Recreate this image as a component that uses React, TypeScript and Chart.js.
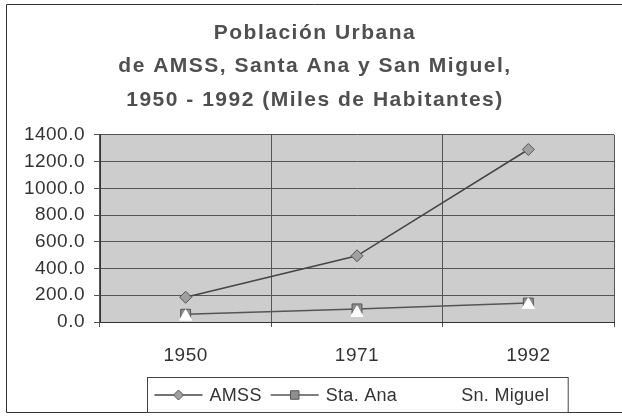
import React, { useEffect, useRef } from "react";
import { Chart, registerables } from "chart.js";
import { drawPoint } from "chart.js/helpers";

Chart.register(...registerables);

const years = ["1950", "1971", "1992"];
const amss = [185, 495, 1290];
const staAna = [58, 98, 142];
const snMiguel = [40, 68, 128];
const seriesNames = ["AMSS", "Sta. Ana", "Sn. Miguel"];
const titleLines = [
  "Población Urbana",
  "de AMSS, Santa Ana y San Miguel,",
  "1950 - 1992 (Miles de Habitantes)",
];
const yMin = 0;
const yMax = 1400;
const yStep = 200;

const FONT = "Arial, 'Liberation Sans', Helvetica, sans-serif";
const TITLE_SIZE = 21;
const TITLE_LH = 1.6;
const TITLE_PAD_TOP = 16;

const plotBg = {
  id: "plotBg",
  beforeDraw(chart: any) {
    const { ctx, chartArea: a } = chart;
    ctx.save();
    ctx.fillStyle = "#cdcdcd";
    ctx.fillRect(a.left, a.top, a.right - a.left, a.bottom - a.top);
    ctx.restore();
    (ctx as any).letterSpacing = "0.5px";
  },
  beforeDatasetsDraw(chart: any) {
    (chart.ctx as any).letterSpacing = "0px";
  },
};

const spacedTitle = {
  id: "spacedTitle",
  afterDraw(chart: any) {
    const { ctx, width } = chart;
    const tb = chart.titleBlock;
    const top = tb ? tb.top : 0;
    ctx.save();
    (ctx as any).letterSpacing = "1.5px";
    ctx.font = `bold ${TITLE_SIZE}px ${FONT}`;
    ctx.fillStyle = "#4f4f4f";
    ctx.textAlign = "center";
    ctx.textBaseline = "middle";
    const lh = TITLE_SIZE * TITLE_LH;
    titleLines.forEach((line, i) => {
      ctx.fillText(line, width / 2 + 4, top + TITLE_PAD_TOP + lh * (i + 0.5));
    });
    ctx.restore();
  },
};

const frame = {
  id: "frame",
  afterDraw(chart: any) {
    const { ctx, width, height } = chart;
    ctx.save();
    ctx.strokeStyle = "#333";
    ctx.lineWidth = 1;
    ctx.beginPath();
    ctx.moveTo(width, 4.5);
    ctx.lineTo(6.5, 4.5);
    ctx.lineTo(6.5, height - 3.5);
    ctx.lineTo(width, height - 3.5);
    ctx.stroke();
    ctx.restore();
  },
};

const customLegend = {
  id: "customLegend",
  afterDraw(chart: any) {
    const { ctx, chartArea: a } = chart;
    const ds = chart.data.datasets;
    const fontSize = 18;
    const sampleW = 48;
    const gap = 7;
    const itemPad = 9;
    ctx.save();
    (ctx as any).letterSpacing = "0.3px";
    ctx.font = `${fontSize}px ${FONT}`;
    const widths = ds.map((d: any) => ctx.measureText(d.label).width);
    const total =
      widths.reduce((s: number, w: number) => s + w, 0) +
      ds.length * (sampleW + gap) +
      (ds.length - 1) * itemPad;
    const padL = 7;
    const padR = 19;
    const boxW = total + padL + padR;
    const cx = (a.left + a.right) / 2;
    const boxL = Math.round(cx - boxW / 2) + 0.5;
    const boxT = 377.5;
    const boxH = 35;
    const yc = boxT + boxH / 2;
    ctx.strokeStyle = "#444";
    ctx.lineWidth = 1;
    ctx.strokeRect(boxL, boxT, boxW, boxH);
    let x = boxL + padL;
    ds.forEach((d: any, i: number) => {
      ctx.strokeStyle = d.legendLine;
      ctx.lineWidth = 1.5;
      ctx.beginPath();
      ctx.moveTo(x, yc);
      ctx.lineTo(x + sampleW, yc);
      ctx.stroke();
      ctx.fillStyle = d.pointBackgroundColor;
      ctx.strokeStyle = d.pointBorderColor;
      ctx.lineWidth = 1;
      drawPoint(
        ctx,
        { pointStyle: d.pointStyle, radius: d.pointRadius - 1, rotation: 0, borderWidth: 1 } as any,
        x + sampleW / 2,
        yc
      );
      ctx.fillStyle = "#333";
      ctx.textBaseline = "middle";
      ctx.textAlign = "left";
      ctx.fillText(d.label, x + sampleW + gap, yc + 1);
      x += sampleW + gap + widths[i] + itemPad;
    });
    ctx.restore();
  },
};

export default function App() {
  const ref = useRef<HTMLCanvasElement>(null);
  useEffect(() => {
    document.body.style.margin = "0";
    const chart = new Chart(ref.current as HTMLCanvasElement, {
      type: "line",
      data: {
        labels: years,
        datasets: [
          {
            label: seriesNames[0],
            data: amss,
            borderColor: "#454545",
            borderWidth: 1.5,
            pointStyle: "rectRot",
            pointRadius: 6,
            pointBackgroundColor: "#a0a0a0",
            pointBorderColor: "#555",
            pointBorderWidth: 1,
            legendLine: "#454545",
            order: 2,
          } as any,
          {
            label: seriesNames[1],
            data: staAna,
            borderColor: "#555555",
            borderWidth: 1.5,
            pointStyle: "rect",
            pointRadius: 7,
            pointBackgroundColor: "#8f8f8f",
            pointBorderColor: "#555",
            pointBorderWidth: 1,
            legendLine: "#555555",
            order: 1,
          } as any,
          {
            label: seriesNames[2],
            data: snMiguel,
            borderColor: "#ffffff",
            showLine: false,
            pointStyle: "triangle",
            pointRadius: 7,
            pointBackgroundColor: "#ffffff",
            pointBorderColor: "#ffffff",
            pointBorderWidth: 1,
            legendLine: "#ffffff",
            order: 0,
          } as any,
        ],
      },
      options: {
        animation: false,
        responsive: false,
        layout: { padding: { top: 0, left: 0, right: 6, bottom: 50 } },
        plugins: {
          legend: { display: false },
          tooltip: { enabled: false },
          title: {
            display: true,
            text: titleLines,
            color: "rgba(0,0,0,0)",
            font: { family: FONT, size: TITLE_SIZE, weight: "bold", lineHeight: TITLE_LH },
            padding: { top: TITLE_PAD_TOP, bottom: 18 },
          },
        },
        scales: {
          x: {
            type: "category",
            offset: true,
            afterFit: (s: any) => {
              s.height = 44;
            },
            border: { display: true, color: "#333", width: 1 },
            grid: { color: "#555", tickLength: 5, offset: true, lineWidth: 1 },
            ticks: { padding: 17, color: "#333", font: { family: FONT, size: 19 } },
          },
          y: {
            min: yMin,
            max: yMax,
            afterFit: (s: any) => {
              s.width = 100;
            },
            border: { display: true, color: "#333", width: 1 },
            grid: { color: "#555", tickLength: 6, lineWidth: 1 },
            ticks: {
              stepSize: yStep,
              padding: 9,
              color: "#333",
              font: { family: FONT, size: 19 },
              callback: (v: any) => Number(v).toFixed(1),
            },
          },
        },
      } as any,
      plugins: [plotBg, spacedTitle, frame, customLegend],
    });
    return () => chart.destroy();
  }, []);
  return (
    <div style={{ width: 622, height: 416 }}>
      <canvas ref={ref} width={622} height={416} />
    </div>
  );
}
